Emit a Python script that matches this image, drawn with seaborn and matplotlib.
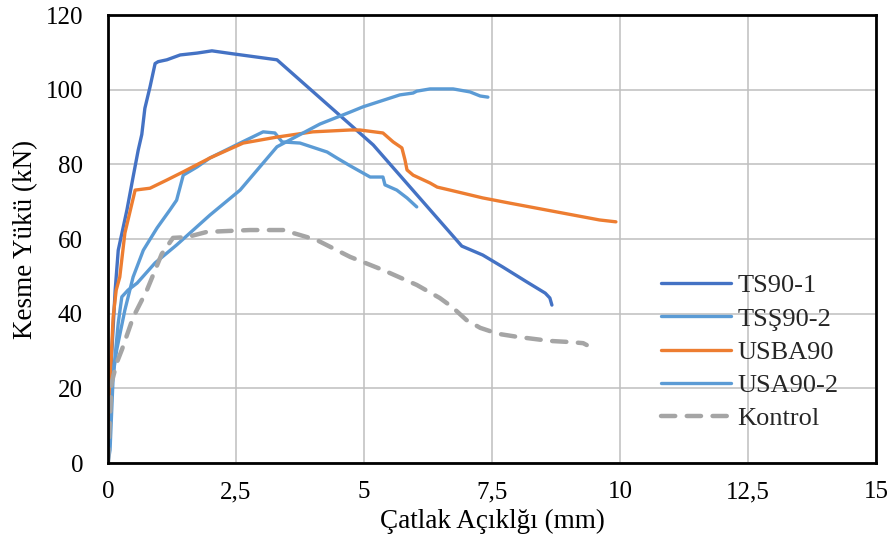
import numpy as np
import pandas as pd
import matplotlib
matplotlib.use("Agg")
import matplotlib.pyplot as plt
import seaborn as sns

# ---- data ----
ts90_1_x = [0.0, 0.02, 0.04, 0.14, 0.20, 0.37, 0.49, 0.59, 0.66, 0.72, 0.82, 0.92, 0.98, 1.15,
            1.41, 1.74, 2.03, 2.44, 3.30, 5.18, 6.91, 7.32, 7.71, 8.18, 8.54, 8.63, 8.67]
ts90_1_y = [0.0, 6.0, 21.0, 46.3, 57.0, 67.8, 76.6, 83.8, 88.0, 95.0, 100.7, 107.0, 107.5, 108.0,
            109.3, 109.8, 110.4, 109.6, 108.0, 85.2, 58.1, 55.7, 52.5, 48.5, 45.5, 44.2, 42.3]

tss90_2_x = [0.0, 0.04, 0.17, 0.33, 0.49, 0.69, 0.96, 1.21, 1.34, 1.47, 1.74, 1.99, 2.58, 3.03,
             3.26, 3.40, 3.75, 4.28, 4.47, 4.73, 5.12, 5.37, 5.41, 5.64, 5.84, 6.03]
tss90_2_y = [0.0, 18.0, 30.3, 41.0, 49.8, 57.0, 63.0, 67.8, 70.4, 77.1, 79.3, 81.7, 85.7, 88.7,
             88.4, 86.0, 85.7, 83.3, 81.7, 79.6, 76.6, 76.6, 74.5, 73.1, 71.0, 68.6]

usba90_x = [0.0, 0.02, 0.04, 0.10, 0.16, 0.23, 0.33, 0.53, 0.82, 1.15, 1.47, 1.99, 2.64, 3.30,
            4.00, 4.73, 4.92, 5.37, 5.57, 5.74, 5.80, 5.84, 5.96, 6.29, 6.43, 6.68, 7.32, 7.85,
            9.60, 9.92]
usba90_y = [0.0, 8.0, 21.4, 39.0, 46.3, 49.8, 61.6, 73.1, 73.6, 75.8, 78.0, 81.7, 85.7, 87.3,
            88.7, 89.2, 89.2, 88.4, 86.0, 84.4, 81.2, 78.5, 77.1, 75.0, 73.9, 73.1, 71.0, 69.6,
            65.1, 64.6]

usa90_2_x = [0.0, 0.04, 0.10, 0.20, 0.27, 0.39, 0.57, 0.92, 1.34, 1.99, 2.58, 3.30, 4.14, 4.73,
             4.98, 5.70, 5.96, 6.03, 6.29, 6.74, 7.07, 7.27, 7.42]
usa90_2_y = [0.0, 3.5, 23.0, 37.5, 44.5, 46.3, 48.2, 53.6, 58.4, 66.4, 73.1, 84.7, 90.8, 94.0,
             95.4, 98.6, 99.1, 99.6, 100.2, 100.2, 99.4, 98.3, 98.0]

kontrol_x = [0.0, 0.07, 0.17, 0.27, 0.49, 0.76, 1.05, 1.27, 1.54, 1.93, 2.77, 3.42, 3.89, 4.08,
             4.73, 5.37, 6.03, 6.48, 6.72, 7.00, 7.27, 7.62, 7.99, 8.63, 9.02, 9.28, 9.35]
kontrol_y = [0.0, 21.4, 26.8, 30.3, 39.0, 46.3, 56.0, 60.3, 60.5, 61.9, 62.4, 62.4, 60.5, 59.7,
             55.2, 51.7, 47.7, 44.2, 41.8, 38.3, 36.2, 34.6, 33.8, 32.7, 32.4, 32.1, 31.6]

series_names = ["TS90-1", "TSŞ90-2", "USBA90", "USA90-2", "Kontrol"]
series_colors = ["#4472C4", "#5B9BD5", "#ED7D31", "#5B9BD5", "#A5A5A5"]

x_ticks = [0, 2.5, 5, 7.5, 10, 12.5, 15]
x_tick_labels = ["0", "2,5", "5", "7,5", "10", "12,5", "15"]
y_ticks = [0, 20, 40, 60, 80, 100, 120]

xs = [ts90_1_x, tss90_2_x, usba90_x, usa90_2_x, kontrol_x]
ys = [ts90_1_y, tss90_2_y, usba90_y, usa90_2_y, kontrol_y]
frames = []
for name, x, y in zip(series_names, xs, ys):
    d = pd.DataFrame({"x": x, "y": y})
    d["series"] = name
    d["order"] = np.arange(len(x))
    frames.append(d)
df = pd.concat(frames, ignore_index=True)

sns.set_theme(style="white")
plt.rcParams["font.family"] = ["Liberation Serif", "DejaVu Serif"]

fig = plt.figure(figsize=(8.94, 5.56), dpi=100)
ax = fig.add_axes([108 / 894, 1 - 463 / 556, (876 - 108) / 894, (463 - 15) / 556])

for name, color in zip(series_names, series_colors):
    sub = df[df["series"] == name]
    if name == "Kontrol":
        sns.lineplot(data=sub, x="x", y="y", ax=ax, sort=False, estimator=None,
                     color=color, linewidth=3.2, label=name,
                     dashes=False, linestyle=(0, (3.2, 2.6)), solid_capstyle="round",
                     dash_capstyle="round")
    else:
        sns.lineplot(data=sub, x="x", y="y", ax=ax, sort=False, estimator=None,
                     color=color, linewidth=2.4, label=name)

ax.set_xlim(0, 15)
ax.set_ylim(0, 120)
ax.set_xticks(x_ticks)
ax.set_xticklabels(x_tick_labels)
ax.set_yticks(y_ticks)
ax.grid(True, color="#BFBFBF", linewidth=1.1)
ax.set_axisbelow(True)
for s in ax.spines.values():
    s.set_color("black")
    s.set_linewidth(2.0)
ax.tick_params(axis="both", labelsize=18, length=0, colors="black")
ax.tick_params(axis="y", pad=18)
ax.tick_params(axis="x", pad=13)
ax.set_xlabel("Çatlak Açıklğı (mm)", fontsize=19.5, color="black", labelpad=4)
ax.set_ylabel("Kesme Yükü (kN)", fontsize=19.5, color="black", labelpad=5)

leg = ax.legend(loc="upper left", bbox_to_anchor=(0.72, 0.422), frameon=False,
                fontsize=19, handlelength=2.65, handletextpad=0.25, labelspacing=0.37,
                borderaxespad=0, borderpad=0)

fig.savefig("out.png", dpi=100)
